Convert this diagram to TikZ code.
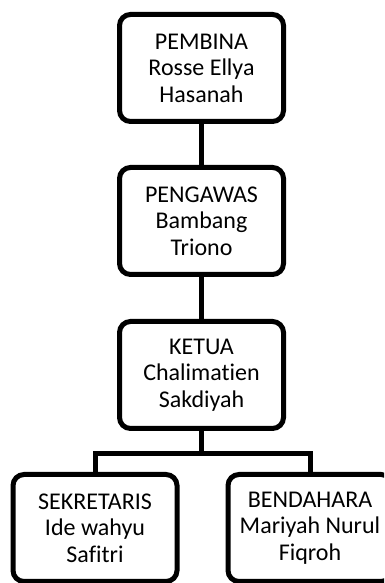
\documentclass[tikz,border=0pt]{standalone}
\usepackage{fontspec}
\setmainfont[Ligatures={NoCommon}]{Carlito}
\usepackage{tikz}
\usetikzlibrary{calc}

\begin{document}
\begin{tikzpicture}[x=1pt, y=1pt,
  jabatan/.style={draw, line width=5pt, rounded corners=11pt, fill=white, minimum width=164pt, minimum height=107pt, align=center, inner sep=2pt, font=\fontsize{24}{26.5}\selectfont},
  garis/.style={line width=5pt}]
\useasboundingbox (0,0) rectangle (384,583);
\clip (0,0) rectangle (384,583);
\node[jabatan] (pembina) at (201.5,515) {PEMBINA\\Rosse Ellya\\Hasanah};
\node[jabatan] (pengawas) at (201.5,362) {PENGAWAS\\Bambang\\Triono};
\node[jabatan] (ketua) at (201.5,208) {KETUA\\Chalimatien\\Sakdiyah};
\node[jabatan] (sekretaris) at (95,55) {SEKRETARIS\\Ide wahyu\\Safitri};
\node[jabatan] (bendahara) at (310,55) {BENDAHARA\\Mariyah Nurul\\Fiqroh};
\draw[garis] (pembina) -- (pengawas);
\draw[garis] (pengawas) -- (ketua);
\coordinate (cabang) at ($(ketua.south)+(0,-23)$);
\draw[garis] (ketua.south) -- (cabang) -| (sekretaris.north);
\draw[garis] (cabang) -| (bendahara.north);
\end{tikzpicture}
\end{document}
